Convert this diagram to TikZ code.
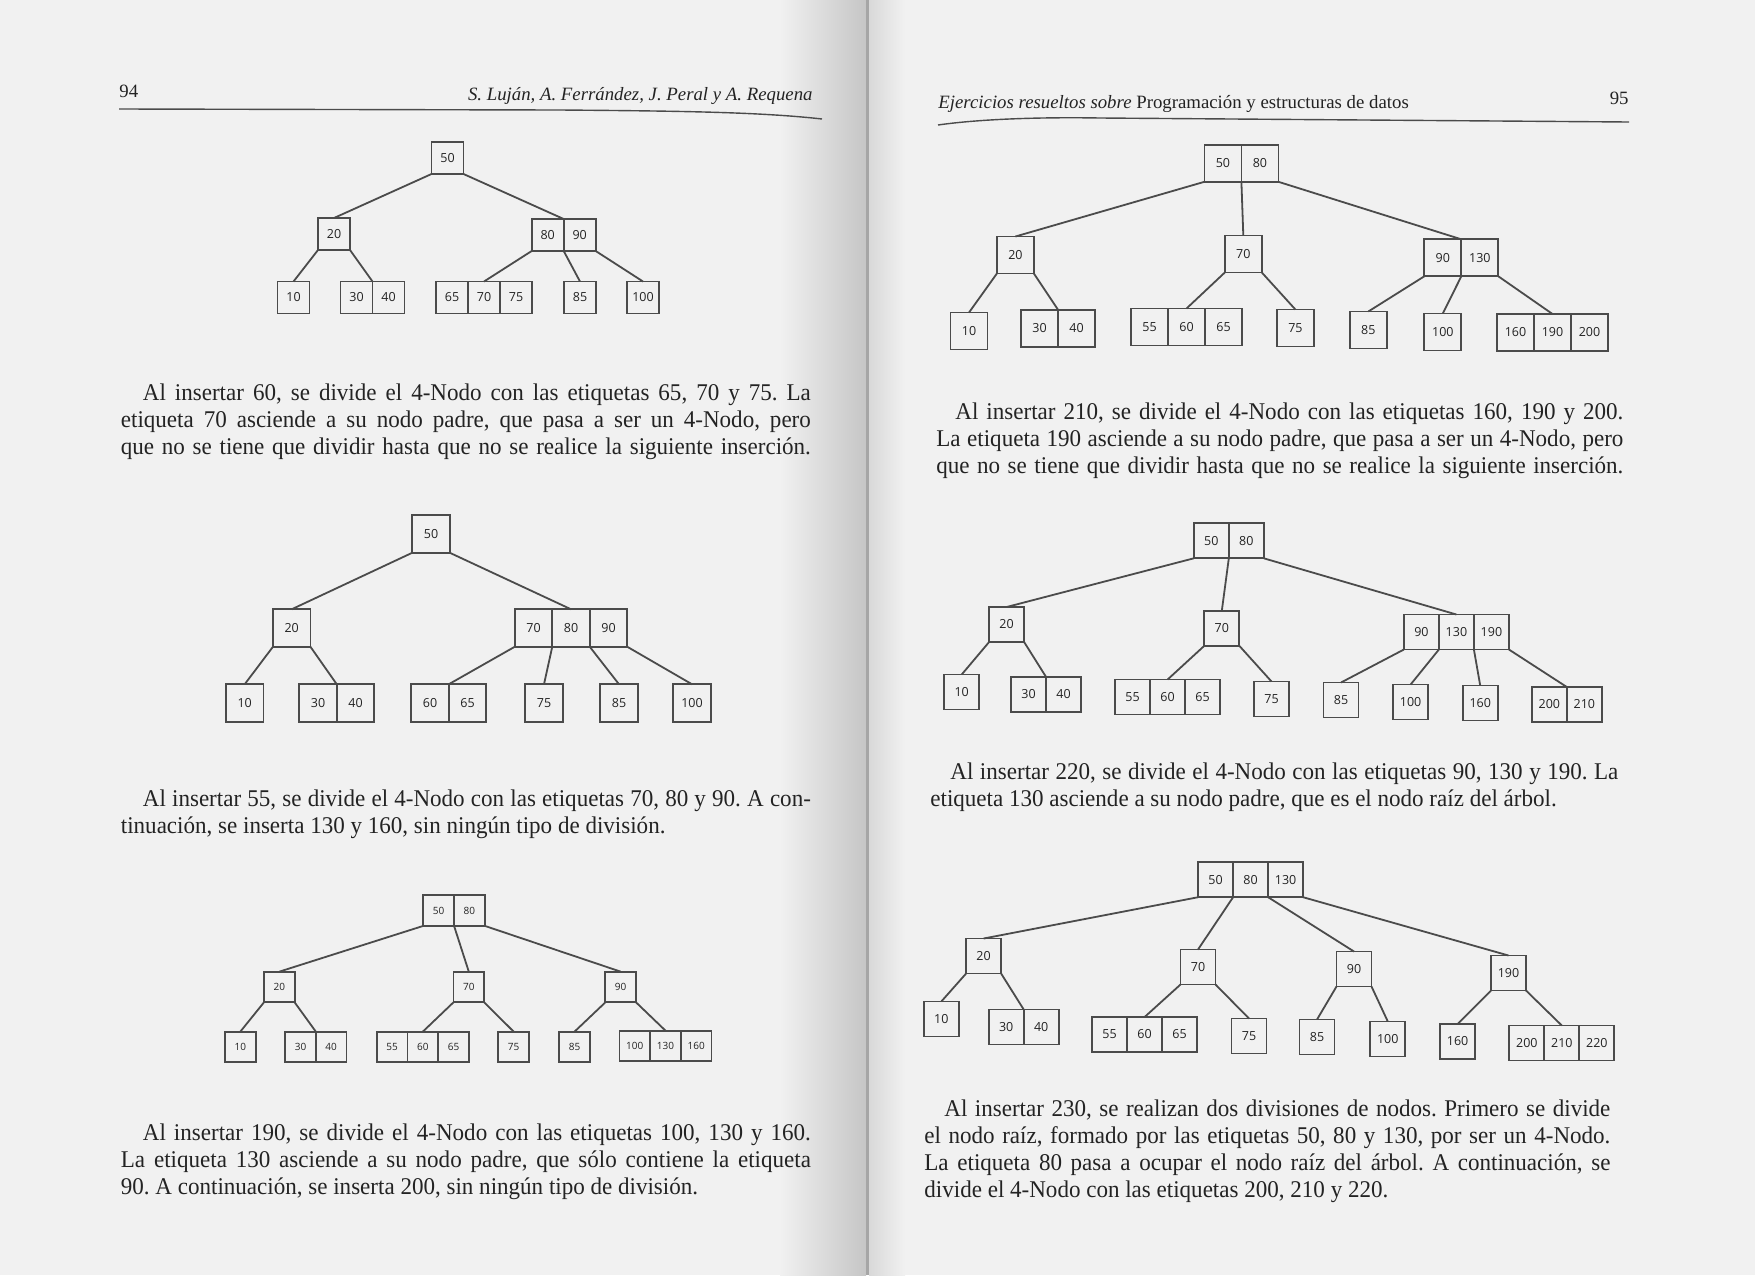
\documentclass[tikz,border=0pt]{standalone}
\usepackage{fontspec}
\setmainfont{Liberation Serif}
\newfontfamily\bodyfont[FakeStretch=0.96]{Liberation Serif}
\newfontfamily\cellfont{Open Sans}
\usepackage{xcolor}
\usepackage{tikz}
\usetikzlibrary{positioning}
\definecolor{pagegray}{RGB}{241,241,241}
\definecolor{treegray}{RGB}{75,75,75}
\definecolor{inkgray}{RGB}{35,35,35}
\tikzset{cell/.style={draw=treegray, line width=0.9pt, inner sep=0pt, outer sep=0pt, minimum size=17.5pt, text=inkgray, font=\cellfont\fontsize{6.25}{7}\selectfont}}
\tikzset{link/.style={draw=treegray, line width=0.9pt}}
\tikzset{para/.style={anchor=north west, inner sep=0pt, text=inkgray, font=\bodyfont\fontsize{12}{13.5}\selectfont\frenchspacing}}
\tikzset{head/.style={anchor=base west, inner sep=0pt, text=inkgray, font=\fontsize{9.4}{11}\selectfont}}
\newdimen\linew
\linew=345pt
\newcommand\justline[1]{\hbox to\linew{\vrule height 9pt width 0pt\relax #1}}
\newcommand\plainline[1]{\hbox{\vrule height 9pt width 0pt\relax #1}}

\begin{document}
\begin{tikzpicture}[x=0.5pt, y=-0.5pt]
\useasboundingbox (0,0) rectangle (1755,1275);
\fill[pagegray] (0,0) rectangle (1755,1275);
% gutter
\shade[left color=pagegray, right color=gray!45] (780,0) rectangle (866,1275);
\fill[gray!70] (866,0) rectangle (869,1275);
\shade[left color=gray!30, right color=pagegray] (869,0) rectangle (905,1275);

% headers
\node[head] (pageL) at (119,97) {94};
\node[head, anchor=base east, font=\fontsize{9.4}{11}\selectfont\itshape] (authors) at (813,100) {S. Luján, A. Ferrández, J. Peral y A. Requena};
\draw[treegray, line width=0.7pt] (119,109) -- (560,110) .. controls (680,111) and (760,112) .. (822,119);
\node[head] (title) at (938,108) {\textit{Ejercicios resueltos sobre} Programación y estructuras de datos};
\node[head, anchor=base east] (pageR) at (1629,104) {95};
\draw[treegray, line width=0.7pt] (938,125) .. controls (980,119) and (1040,117) .. (1100,118) -- (1629,122);

% tree a
\begin{scope}[cell/.append style={minimum size=16pt}]
\node[cell] (a50) at (447.5,158) {50};
\node[cell] (a20) at (334,234) {20};
\node[cell] (a80) at (547.7,235) {80};
\node[cell] (a90) [right=0pt of a80] {90};
\node[cell] (a10) at (293.5,297.5) {10};
\node[cell] (a30) at (356.5,297.5) {30};
\node[cell] (a40) [right=0pt of a30] {40};
\node[cell] (a65) at (452,297.5) {65};
\node[cell] (a70) [right=0pt of a65] {70};
\node[cell] (a75) [right=0pt of a70] {75};
\node[cell] (a85) at (580,297.5) {85};
\node[cell] (a100) at (643,297.5) {100};
\end{scope}
\draw[link] (a50.south west) -- (a20.north);
\draw[link] (a50.south east) -- (a80.north east);
\draw[link] (a20.south west) -- (a10.north);
\draw[link] (a20.south east) -- (a30.north east);
\draw[link] (a80.south west) -- (a70.north);
\draw[link] (a80.south east) -- (a85.north);
\draw[link] (a90.south east) -- (a100.north);

\node[para] (txtA) at (120.5,382) {\vbox{%
\justline{\hskip 11pt Al insertar 60, se divide el 4-Nodo con las etiquetas 65, 70 y 75. La}%
\justline{etiqueta 70 asciende a su nodo padre, que pasa a ser un 4-Nodo, pero}%
\justline{que no se tiene que dividir hasta que no se realice la siguiente inserción.}}};

% tree b
\begin{scope}[cell/.append style={minimum size=18.75pt}]
\node[cell] (b50) at (431,534) {50};
\node[cell] (b20) at (291.7,628) {20};
\node[cell] (b70) at (533.5,628) {70};
\node[cell] (b80) [right=0pt of b70] {80};
\node[cell] (b90) [right=0pt of b80] {90};
\node[cell] (b10) at (244.7,703) {10};
\node[cell] (b30) at (318,703) {30};
\node[cell] (b40) [right=0pt of b30] {40};
\node[cell] (b60) at (430,703) {60};
\node[cell] (b65) [right=0pt of b60] {65};
\node[cell] (b75) at (544,703) {75};
\node[cell] (b85) at (619,703) {85};
\node[cell] (b100) at (692,703) {100};
\end{scope}
\draw[link] (b50.south west) -- (b20.north);
\draw[link] (b50.south east) -- (b80.north);
\draw[link] (b20.south west) -- (b10.north);
\draw[link] (b20.south east) -- (b30.north east);
\draw[link] (b70.south west) -- (b60.north east);
\draw[link] (b70.south east) -- (b75.north);
\draw[link] (b80.south east) -- (b85.north);
\draw[link] (b90.south east) -- (b100.north);

\node[para] (txtB) at (120.5,788) {\vbox{%
\justline{\hskip 11pt Al insertar 55, se divide el 4-Nodo con las etiquetas 70, 80 y 90. A con-}%
\plainline{tinuación, se inserta 130 y 160, sin ningún tipo de división.}}};

% tree c
\begin{scope}[cell/.append style={minimum size=15.35pt, font=\cellfont\fontsize{5}{6}\selectfont}]
\node[cell] (c50) at (438.7,910.5) {50};
\node[cell] (c80) [right=0pt of c50] {80};
\node[cell] (c20) at (279.3,987) {20};
\node[cell] (c70) at (468.8,987) {70};
\node[cell] (c90) at (620.7,987) {90};
\node[cell] (c10) at (240.3,1047) {10};
\node[cell] (c30) at (300.5,1047) {30};
\node[cell] (c40) [right=0pt of c30] {40};
\node[cell] (c55) at (392.1,1047) {55};
\node[cell] (c60) [right=0pt of c55] {60};
\node[cell] (c65) [right=0pt of c60] {65};
\node[cell] (c75) at (513.7,1047) {75};
\node[cell] (c85) at (574.5,1047) {85};
\node[cell] (c100) at (634.8,1046) {100};
\node[cell] (c130) [right=0pt of c100] {130};
\node[cell] (c160) [right=0pt of c130] {160};
\end{scope}
\draw[link] (c50.south west) -- (c20.north);
\draw[link] (c50.south east) -- (c70.north);
\draw[link] (c80.south east) -- (c90.north);
\draw[link] (c20.south west) -- (c10.north);
\draw[link] (c20.south east) -- (c30.north east);
\draw[link] (c70.south west) -- (c60.north);
\draw[link] (c70.south east) -- (c75.north);
\draw[link] (c90.south west) -- (c85.north);
\draw[link] (c90.south east) -- (c130.north);

\node[para] (txtC) at (120.5,1122) {\vbox{%
\justline{\hskip 11pt Al insertar 190, se divide el 4-Nodo con las etiquetas 100, 130 y 160.}%
\justline{La etiqueta 130 asciende a su nodo padre, que sólo contiene la etiqueta}%
\plainline{90. A continuación, se inserta 200, sin ningún tipo de división.}}};

% tree d
\begin{scope}[cell/.append style={minimum size=18.5pt}]
\node[cell] (d50) at (1222.9,163.3) {50};
\node[cell] (d80) [right=0pt of d50] {80};
\node[cell] (d20) at (1015.4,255) {20};
\node[cell] (d70) at (1243.3,254) {70};
\node[cell] (d90) at (1442.8,257.8) {90};
\node[cell] (d130) [right=0pt of d90] {130};
\node[cell] (d10) at (969,331) {10};
\node[cell] (d30) at (1039.6,328.3) {30};
\node[cell] (d40) [right=0pt of d30] {40};
\node[cell] (d55) at (1149.5,327) {55};
\node[cell] (d60) [right=0pt of d55] {60};
\node[cell] (d65) [right=0pt of d60] {65};
\node[cell] (d75) at (1295.4,328) {75};
\node[cell] (d85) at (1368.3,330) {85};
\node[cell] (d100) at (1442.8,332) {100};
\node[cell] (d160) at (1515.5,332.5) {160};
\node[cell] (d190) [right=0pt of d160] {190};
\node[cell] (d200) [right=0pt of d190] {200};
\end{scope}
\draw[link] (d50.south west) -- (d20.north);
\draw[link] (d50.south east) -- (d70.north);
\draw[link] (d80.south east) -- (d90.north east);
\draw[link] (d20.south west) -- (d10.north);
\draw[link] (d20.south east) -- (d30.north east);
\draw[link] (d70.south west) -- (d60.north);
\draw[link] (d70.south east) -- (d75.north);
\draw[link] (d90.south west) -- (d85.north);
\draw[link] (d90.south east) -- (d100.north);
\draw[link] (d130.south east) -- (d190.north);

\node[para] (txtD) at (936,401) {\linew=343.5pt\vbox{%
\justline{\hskip 9.5pt Al insertar 210, se divide el 4-Nodo con las etiquetas 160, 190 y 200.}%
\justline{La etiqueta 190 asciende a su nodo padre, que pasa a ser un 4-Nodo, pero}%
\justline{que no se tiene que dividir hasta que no se realice la siguiente inserción.}}};

% tree e
\begin{scope}[cell/.append style={minimum size=17.5pt}]
\node[cell] (e50) at (1211.3,540.8) {50};
\node[cell] (e80) [right=0pt of e50] {80};
\node[cell] (e20) at (1006.6,624.5) {20};
\node[cell] (e70) at (1221.8,628.3) {70};
\node[cell] (e90) at (1421.4,632) {90};
\node[cell] (e130) [right=0pt of e90] {130};
\node[cell] (e190) [right=0pt of e130] {190};
\node[cell] (e10) at (961.7,692) {10};
\node[cell] (e30) at (1028.6,694.5) {30};
\node[cell] (e40) [right=0pt of e30] {40};
\node[cell] (e55) at (1132.6,697) {55};
\node[cell] (e60) [right=0pt of e55] {60};
\node[cell] (e65) [right=0pt of e60] {65};
\node[cell] (e75) at (1271.5,699) {75};
\node[cell] (e85) at (1341,700) {85};
\node[cell] (e100) at (1410.6,702) {100};
\node[cell] (e160) at (1480.2,703) {160};
\node[cell] (e200) at (1549.3,704.5) {200};
\node[cell] (e210) [right=0pt of e200] {210};
\end{scope}
\draw[link] (e50.south west) -- (e20.north);
\draw[link] (e50.south east) -- (e70.north);
\draw[link] (e80.south east) -- (e130.north);
\draw[link] (e20.south west) -- (e10.north);
\draw[link] (e20.south east) -- (e30.north east);
\draw[link] (e70.south west) -- (e60.north);
\draw[link] (e70.south east) -- (e75.north);
\draw[link] (e90.south west) -- (e85.north);
\draw[link] (e90.south east) -- (e100.north);
\draw[link] (e130.south east) -- (e160.north);
\draw[link] (e190.south east) -- (e200.north east);

\node[para] (txtE) at (930,761) {\linew=344pt\vbox{%
\justline{\hskip 10pt Al insertar 220, se divide el 4-Nodo con las etiquetas 90, 130 y 190. La}%
\plainline{etiqueta 130 asciende a su nodo padre, que es el nodo raíz del árbol.}}};

% tree f
\begin{scope}[cell/.append style={minimum size=17.5pt}]
\node[cell] (f50) at (1215.6,879.7) {50};
\node[cell] (f80) [right=0pt of f50] {80};
\node[cell] (f130) [right=0pt of f80] {130};
\node[cell] (f20) at (983.6,956) {20};
\node[cell] (f70) at (1198,967) {70};
\node[cell] (f90) at (1354,969) {90};
\node[cell] (f190) at (1508.5,973) {190};
\node[cell] (f10) at (941.3,1019) {10};
\node[cell] (f30) at (1006.2,1027) {30};
\node[cell] (f40) [right=0pt of f30] {40};
\node[cell] (f55) at (1109.6,1034.5) {55};
\node[cell] (f60) [right=0pt of f55] {60};
\node[cell] (f65) [right=0pt of f60] {65};
\node[cell] (f75) at (1249,1036) {75};
\node[cell] (f85) at (1317,1037) {85};
\node[cell] (f100) at (1387.8,1039) {100};
\node[cell] (f160) at (1457.6,1041.5) {160};
\node[cell] (f200) at (1526.8,1043) {200};
\node[cell] (f210) [right=0pt of f200] {210};
\node[cell] (f220) [right=0pt of f210] {220};
\end{scope}
\draw[link] (f50.south west) -- (f20.north);
\draw[link] (f50.south east) -- (f70.north);
\draw[link] (f80.south east) -- (f90.north);
\draw[link] (f130.south east) -- (f190.north);
\draw[link] (f20.south west) -- (f10.north);
\draw[link] (f20.south east) -- (f30.north east);
\draw[link] (f70.south west) -- (f60.north);
\draw[link] (f70.south east) -- (f75.north);
\draw[link] (f90.south west) -- (f85.north);
\draw[link] (f90.south east) -- (f100.north);
\draw[link] (f190.south west) -- (f160.north);
\draw[link] (f190.south east) -- (f210.north);

\node[para] (txtF) at (924,1098) {\linew=343pt\vbox{%
\justline{\hskip 10pt Al insertar 230, se realizan dos divisiones de nodos. Primero se divide}%
\justline{el nodo raíz, formado por las etiquetas 50, 80 y 130, por ser un 4-Nodo.}%
\justline{La etiqueta 80 pasa a ocupar el nodo raíz del árbol. A continuación, se}%
\plainline{divide el 4-Nodo con las etiquetas 200, 210 y 220.}}};
\end{tikzpicture}
\end{document}
